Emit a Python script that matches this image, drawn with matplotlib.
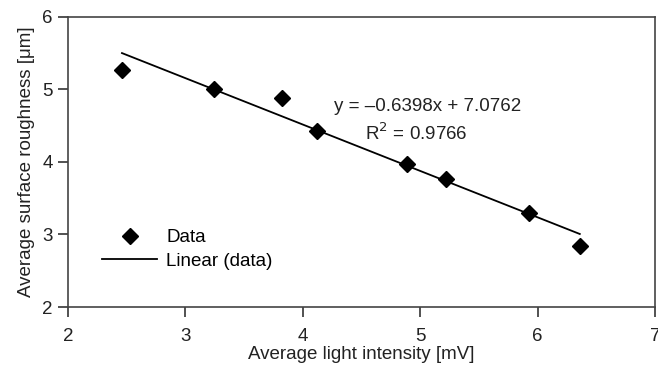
import numpy as np
import matplotlib.pyplot as plt

plt.rcParams['font.family'] = ['Liberation Sans', 'DejaVu Sans']

# measured values
light_intensity = [2.46, 3.24, 3.82, 4.12, 4.89, 5.22, 5.93, 6.36]
roughness = [5.27, 5.00, 4.88, 4.43, 3.97, 3.76, 3.29, 2.84]

slope = -0.6398
intercept = 7.0762
r_squared = 0.9766

FS = 13.5

fig = plt.figure(figsize=(6.58, 3.71), dpi=100)
ax = fig.add_axes([0.1033, 0.1725, 0.892, 0.7817])

x_fit = np.array([min(light_intensity), max(light_intensity)])
y_fit = slope * x_fit + intercept

ax.plot(light_intensity, roughness, linestyle='none', marker='D', markersize=8,
        color='black', label='Data')
ax.plot(x_fit, y_fit, color='black', linewidth=1.3, label='Linear (data)')

ax.text(5.06, 4.76, 'y = \u20130.6398x + 7.0762', fontsize=FS, ha='center', va='center',
        color='#222222')
ax.text(4.97, 4.39, 'R$^2$ = 0.9766', fontsize=FS, ha='center', va='center',
        color='#222222')

ax.set_xlim(2, 7)
ax.set_ylim(2, 6)
ax.set_xticks([2, 3, 4, 5, 6, 7])
ax.set_yticks([2, 3, 4, 5, 6])
ax.tick_params(direction='out', length=7, width=1.2, pad=4, labelsize=FS, colors='#333333',
               labelcolor='#222222')
ax.tick_params(axis='x', pad=8)
for sp in ax.spines.values():
    sp.set_color('#444444')
    sp.set_linewidth(1.2)

ax.set_xlabel('Average light intensity [mV]', fontsize=FS, color='#222222', labelpad=1)
ax.set_ylabel('Average surface roughness [\u03bcm]', fontsize=FS, color='#222222', labelpad=5)

ax.legend(loc='lower left', bbox_to_anchor=(0.03, 0.07), frameon=False, fontsize=FS,
          handlelength=2.9, handletextpad=0.5, labelspacing=0.35)

fig.savefig('out.png', dpi=100)
